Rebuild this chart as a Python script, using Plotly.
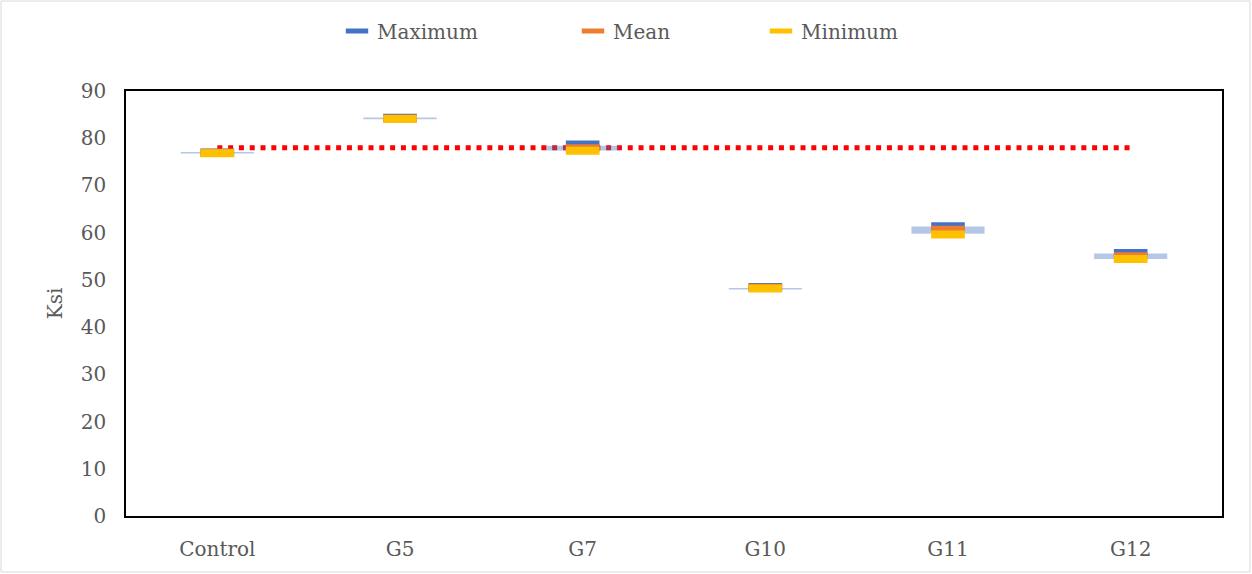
import plotly.graph_objects as go

categories = ["Control", "G5", "G7", "G10", "G11", "G12"]
maximum = [77.0, 84.35, 78.65, 48.5, 61.35, 55.7]
mean = [76.9, 84.2, 77.9, 48.35, 60.6, 55.0]
minimum = [76.8, 84.05, 77.35, 48.2, 59.6, 54.45]
band_low = [76.75, 84.0, 77.4, 47.95, 59.75, 54.4]
band_high = [77.1, 84.4, 78.4, 48.3, 61.3, 55.6]
reference_level = [78.0] * len(categories)

xs = list(range(len(categories)))
FONT = "DejaVu Serif"
GRAY = "#595959"

W, H = 1252, 574
L, R, T, B = 126, 30, 91, 58
pw, ph = W - L - R, H - T - B

fig = go.Figure()

# red dotted reference line
fig.add_trace(go.Scatter(
    x=xs, y=reference_level, mode="lines", showlegend=False, hoverinfo="skip",
    line=dict(color="#FF0000", width=5, dash="5px,5.8px"),
))

# light-blue translucent bands
bx, by = [], []
half = 0.2
for i, (lo, hi) in enumerate(zip(band_low, band_high)):
    bx += [i - half, i + half, i + half, i - half, i - half, None]
    by += [lo, lo, hi, hi, lo, None]
fig.add_trace(go.Scatter(
    x=bx, y=by, mode="lines", fill="toself", showlegend=False, hoverinfo="skip",
    line=dict(width=0, color="rgba(68,114,196,0)"),
    fillcolor="rgba(68,114,196,0.4)",
))

series = [("Maximum", maximum, "#4472C4", "legend", 337),
          ("Mean", mean, "#ED7D31", "legend2", 573),
          ("Minimum", minimum, "#FFC000", "legend3", 761)]
legend_layouts = {}
for name, vals, col, leg, left_px in series:
    fig.add_trace(go.Scatter(
        x=xs, y=vals, mode="markers", name=name, legend=leg,
        marker=dict(symbol="line-ew", size=24, color=col,
                    line=dict(color=col, width=8)),
    ))
    legend_layouts[leg] = dict(
        orientation="h", x=(left_px - L) / pw, xanchor="left",
        y=(H - B - 31) / ph, yanchor="middle", itemsizing="trace",
        font=dict(family=FONT, size=20, color=GRAY), bgcolor="rgba(0,0,0,0)")

# outer chart border
fig.add_shape(type="rect", xref="paper", yref="paper",
              x0=(1 - L) / pw, x1=(W - 2 - L) / pw,
              y0=-(B - 2) / ph, y1=(H - B - 1) / ph,
              line=dict(color="#D9D9D9", width=1), layer="below")

fig.update_layout(
    width=W, height=H,
    margin=dict(l=L, r=R, t=T, b=B),
    paper_bgcolor="white", plot_bgcolor="white",
    font=dict(family=FONT, size=20, color=GRAY),
    xaxis=dict(range=[-0.5, len(categories) - 0.5], tickmode="array",
               tickvals=xs, ticktext=categories, showgrid=False, zeroline=False,
               showline=True, mirror=True, linecolor="black", linewidth=1.5,
               ticks="", ticklabelstandoff=14,
               tickfont=dict(family=FONT, size=20, color=GRAY)),
    yaxis=dict(range=[0, 90], dtick=10, showgrid=False, zeroline=False,
               showline=True, mirror=True, linecolor="black", linewidth=1.5,
               ticks="", ticklabelstandoff=14,
               tickfont=dict(family=FONT, size=20, color=GRAY),
               title=dict(text="Ksi", standoff=13,
                          font=dict(family=FONT, size=20, color=GRAY))),
    **legend_layouts,
)

fig.write_html("out.html", config={"displayModeBar": False},
               post_script="document.body.style.margin='0';document.body.style.overflow='hidden';")
